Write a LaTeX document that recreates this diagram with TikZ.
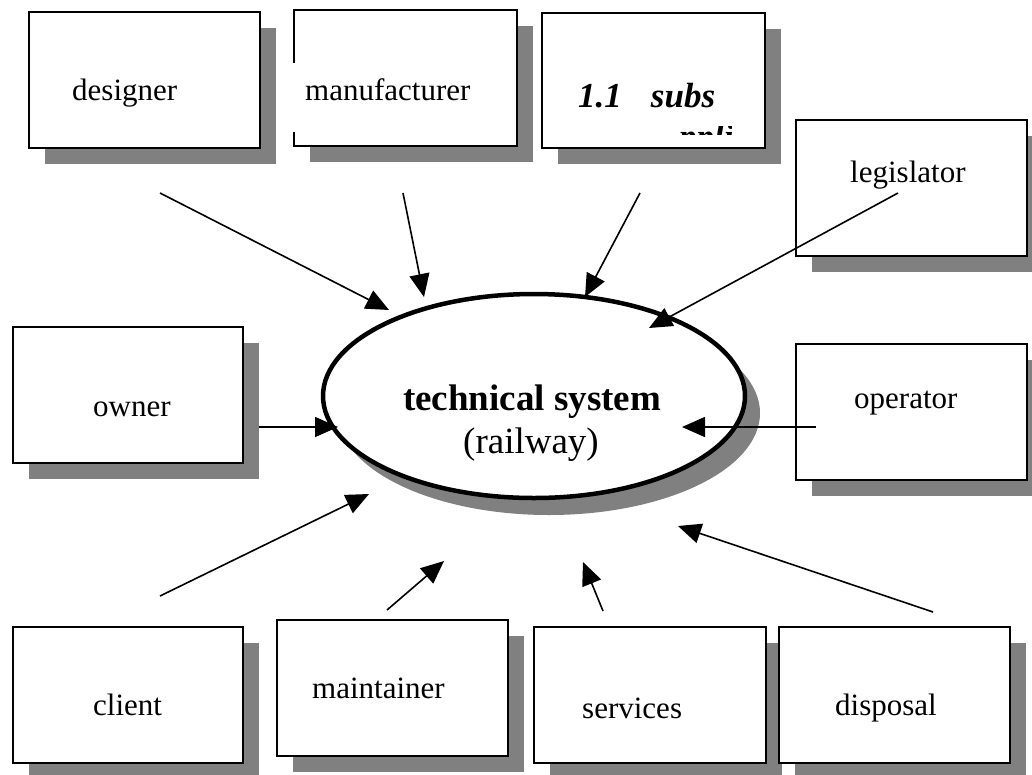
\documentclass[tikz,border=0pt]{standalone}
\usepackage{fontspec}
\setmainfont{Liberation Serif}
\usetikzlibrary{shapes.geometric,shadows,arrows.meta,calc}

\tikzset{
  actor/.style={draw, fill=white, line width=1.5pt, anchor=north west,
    inner sep=0pt, minimum height=136pt,
    general shadow={fill=black!50, shadow xshift=16pt, shadow yshift=-16pt}},
  lbl/.style={anchor=base west, inner sep=0pt, font=\fontsize{31}{37}\selectfont},
  sublbl/.style={lbl, font=\fontsize{35}{42}\selectfont\bfseries\itshape},
  flow/.style={line width=1.6pt, -{Triangle[length=23pt,width=20pt]}},
}

\begin{document}
\begin{tikzpicture}[x=1pt, y=-1pt]
  \useasboundingbox[fill=white] (0,0) rectangle (1032,774);

  % central system with its drop shadow
  \node[ellipse, draw, fill=white, line width=4.5pt, minimum width=422pt, minimum height=204pt,
        general shadow={fill=black!50, shadow xshift=15pt, shadow yshift=-17pt}]
        (sys) at (534,396) {};
  \node[anchor=base, inner sep=0pt, font=\fontsize{37}{44}\selectfont\bfseries]
        (systitle) at (532,410) {technical system};
  \node[anchor=base, inner sep=0pt, font=\fontsize{37}{44}\selectfont]
        (sysname) at (531,453) {(railway)};

  % stakeholder boxes
  \node[actor, minimum width=231pt] (designer) at (28,11) {};
  \node[actor, minimum width=223pt] (manuf) at (293,9) {};
  \node[actor, minimum width=223pt, minimum height=135pt] (subs) at (541,12) {};
  \node[actor, minimum width=231pt] (legis) at (795,119) {};
  \node[actor, minimum width=230pt] (owner) at (12,326) {};
  \node[actor, minimum width=231pt] (oper) at (795,343) {};
  \node[actor, minimum width=230pt] (client) at (12,626) {};
  \node[actor, minimum width=231pt] (maint) at (276,619) {};
  \node[actor, minimum width=232pt] (serv) at (533,626) {};
  \node[actor, minimum width=231pt] (disp) at (778,626) {};

  % gap in the left edge of the manufacturer box
  \draw[white, line width=3pt] ($(manuf.north west)+(0,54)$) -- ($(manuf.north west)+(0,123)$);

  % box labels
  \node[lbl] (tdesigner) at (72,100) {designer};
  \node[lbl] (tmanuf) at (305,100) {manufacturer};
  \node[sublbl] (tsubs) at (578,107) {1.1\hspace{29pt}subs};
  \begin{scope}
    % second line of the sub-supplier label, cut off by its text frame
    \clip (676,126) rectangle (731,134);
    \node[sublbl] (tsubs2) at (679,148) {ppli};
  \end{scope}
  \node[lbl] (tlegis) at (850,182) {legislator};
  \node[lbl] (towner) at (93,416) {owner};
  \node[lbl] (toper) at (854,408) {operator};
  \node[lbl] (tclient) at (93,715) {client};
  \node[lbl] (tmaint) at (312,698) {maintainer};
  \node[lbl] (tserv) at (582,718) {services};
  \node[lbl] (tdisp) at (835,715) {disposal};

  % arrow ends
  \coordinate (a1) at (160,193);  \coordinate (b1) at (389,310);
  \coordinate (a2) at (403,193);  \coordinate (b2) at (424,297);
  \coordinate (a3) at (640,193);  \coordinate (b3) at (585,297);
  \coordinate (a4) at (898,193);  \coordinate (b4) at (649,328);
  \coordinate (a5) at (259,427);  \coordinate (b5) at (338,427);
  \coordinate (a6) at (816,427);  \coordinate (b6) at (682,427);
  \coordinate (a7) at (160,596);  \coordinate (b7) at (369,494);
  \coordinate (a8) at (387,610);  \coordinate (b8) at (444,561);
  \coordinate (a9) at (603,611);  \coordinate (b9) at (583,562);
  \coordinate (a10) at (933,612); \coordinate (b10) at (678,526);

  \foreach \i in {1,...,10} \draw[flow] (a\i) -- (b\i);
\end{tikzpicture}
\end{document}
